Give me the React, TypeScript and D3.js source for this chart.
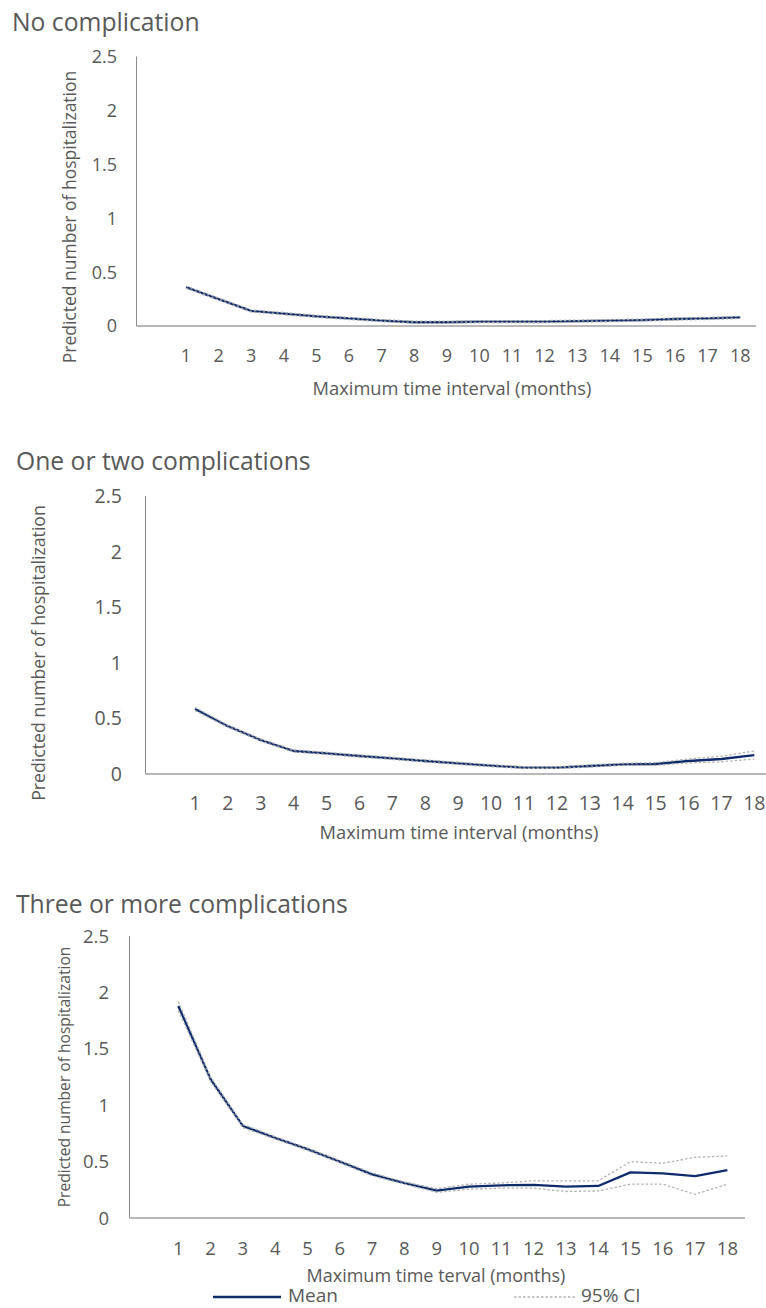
import React from "react";
import * as d3 from "d3";

const months = [1, 2, 3, 4, 5, 6, 7, 8, 9, 10, 11, 12, 13, 14, 15, 16, 17, 18];
const yTicks = [0, 0.5, 1, 1.5, 2, 2.5];

const noCompMean = [0.36, 0.25, 0.14, 0.115, 0.09, 0.07, 0.05, 0.035, 0.035, 0.04, 0.04, 0.04, 0.045, 0.05, 0.055, 0.065, 0.07, 0.08];
const noCompLower = [0.35, 0.24, 0.13, 0.105, 0.08, 0.06, 0.04, 0.025, 0.025, 0.03, 0.03, 0.03, 0.035, 0.04, 0.045, 0.055, 0.06, 0.07];
const noCompUpper = [0.37, 0.26, 0.15, 0.125, 0.1, 0.08, 0.06, 0.045, 0.045, 0.05, 0.05, 0.05, 0.055, 0.06, 0.065, 0.075, 0.08, 0.09];

const oneTwoMean = [0.585, 0.43, 0.305, 0.207, 0.186, 0.162, 0.141, 0.117, 0.096, 0.075, 0.057, 0.057, 0.072, 0.087, 0.09, 0.117, 0.135, 0.17];
const oneTwoLower = [0.57, 0.42, 0.295, 0.197, 0.176, 0.152, 0.131, 0.107, 0.086, 0.065, 0.05, 0.05, 0.062, 0.077, 0.078, 0.1, 0.11, 0.135];
const oneTwoUpper = [0.6, 0.44, 0.315, 0.217, 0.196, 0.172, 0.151, 0.127, 0.106, 0.085, 0.066, 0.066, 0.082, 0.097, 0.102, 0.135, 0.16, 0.207];

const threeMean = [1.88, 1.23, 0.816, 0.71, 0.61, 0.5, 0.387, 0.31, 0.242, 0.278, 0.29, 0.293, 0.278, 0.284, 0.405, 0.396, 0.372, 0.425];
const threeLower = [1.84, 1.21, 0.8, 0.7, 0.6, 0.49, 0.375, 0.3, 0.228, 0.255, 0.265, 0.265, 0.235, 0.24, 0.3, 0.3, 0.21, 0.3];
const threeUpper = [1.92, 1.25, 0.83, 0.72, 0.62, 0.51, 0.4, 0.32, 0.26, 0.3, 0.31, 0.33, 0.33, 0.33, 0.5, 0.485, 0.538, 0.55];

const panelTitles = ["No complication", "One or two complications", "Three or more complications"];
const yTitle = "Predicted number of hospitalization";
const xTitles = ["Maximum time interval (months)", "Maximum time interval (months)", "Maximum time terval (months)"];
const legendLabels = ["Mean", "95% CI"];

const FONT = "'Open Sans', 'Noto Sans', sans-serif";
const TEXT = "#595959";
const NAVY = "#0f2b6b";
const CI = "#b3b3b3";

type Layout = {
  titleX: number; titleY: number;
  left: number; top: number; bottom: number; axisRight: number;
  firstX: number; step: number;
  tickFont: number; yLabelRight: number;
  yTitleX: number; yTitleY: number; yTitleFont: number;
  xLabelY: number; xTitleX: number; xTitleY: number; xTitleFont: number;
};

const layouts: Layout[] = [
  { titleX: 12, titleY: 31, left: 136.5, top: 56.5, bottom: 326, axisRight: 756, firstX: 186, step: 32.6,
    tickFont: 18, yLabelRight: 117, yTitleX: 71, yTitleY: 217, yTitleFont: 17.5,
    xLabelY: 361.5, xTitleX: 452, xTitleY: 395, xTitleFont: 18.3 },
  { titleX: 16, titleY: 470, left: 145.5, top: 496, bottom: 774, axisRight: 766, firstX: 195, step: 32.9,
    tickFont: 19.5, yLabelRight: 122, yTitleX: 40, yTitleY: 653, yTitleFont: 17.7,
    xLabelY: 809.5, xTitleX: 459, xTitleY: 839, xTitleFont: 18.3 },
  { titleX: 16, titleY: 912.5, left: 129.5, top: 936, bottom: 1218, axisRight: 745, firstX: 178.3, step: 32.3,
    tickFont: 18.5, yLabelRight: 109, yTitleX: 65, yTitleY: 1077, yTitleFont: 15.6,
    xLabelY: 1254.5, xTitleX: 436, xTitleY: 1282, xTitleFont: 18 },
];

const seriesSets = [
  { mean: noCompMean, lower: noCompLower, upper: noCompUpper },
  { mean: oneTwoMean, lower: oneTwoLower, upper: oneTwoUpper },
  { mean: threeMean, lower: threeLower, upper: threeUpper },
];

function Panel({ idx }: { idx: number }) {
  const L = layouts[idx];
  const s = seriesSets[idx];
  const x = d3.scaleLinear().domain([1, 18]).range([L.firstX, L.firstX + 17 * L.step]);
  const y = d3.scaleLinear().domain([0, 2.5]).range([L.bottom, L.top]);
  const line = d3.line<number>().x((_, i) => x(months[i])).y((v) => y(v));
  return (
    <g>
      <text x={L.titleX} y={L.titleY} fontSize={24.7} fill={TEXT} fontFamily={FONT}>{panelTitles[idx]}</text>
      <line x1={L.left} x2={L.left} y1={L.top} y2={L.bottom} stroke="#8c8c8c" strokeWidth={1} />
      <line x1={L.left} x2={L.axisRight} y1={L.bottom} y2={L.bottom} stroke="#a0a0a0" strokeWidth={1.6} />
      {yTicks.map((t) => (
        <text key={t} x={L.yLabelRight} y={y(t) + L.tickFont * 0.36} textAnchor="end" fontSize={L.tickFont} fill={TEXT} fontFamily={FONT}>{t}</text>
      ))}
      {months.map((m) => (
        <text key={m} x={x(m)} y={L.xLabelY} textAnchor="middle" fontSize={L.tickFont} fill={TEXT} fontFamily={FONT}>{m}</text>
      ))}
      <text transform={`translate(${L.yTitleX + L.yTitleFont * 0.3},${L.yTitleY}) rotate(-90)`} textAnchor="middle" fontSize={L.yTitleFont} fill={TEXT} fontFamily={FONT}>{yTitle}</text>
      <text x={L.xTitleX} y={L.xTitleY} textAnchor="middle" fontSize={L.xTitleFont} fill={TEXT} fontFamily={FONT}>{xTitles[idx]}</text>
      <path d={line(s.mean) || ""} fill="none" stroke={NAVY} strokeWidth={2.3} strokeLinejoin="round" />
      <path d={line(s.lower) || ""} fill="none" stroke={CI} strokeWidth={1.3} strokeDasharray="2.5,2" />
      <path d={line(s.upper) || ""} fill="none" stroke={CI} strokeWidth={1.3} strokeDasharray="2.5,2" />
    </g>
  );
}

export default function App() {
  return (
    <svg width={766} height={1308} style={{ position: "absolute", left: 0, top: 0, background: "#fff" }}>
      <rect x={0} y={0} width={766} height={1308} fill="#fff" />
      <Panel idx={0} />
      <Panel idx={1} />
      <Panel idx={2} />
      <g>
        <line x1={213} x2={281} y1={1297} y2={1297} stroke={NAVY} strokeWidth={2.3} />
        <text x={288} y={1302} fontSize={19} fill={TEXT} fontFamily={FONT}>{legendLabels[0]}</text>
        <line x1={514} x2={577} y1={1297} y2={1297} stroke={CI} strokeWidth={1.3} strokeDasharray="2.5,2" />
        <text x={581} y={1302} fontSize={19} fill={TEXT} fontFamily={FONT}>{legendLabels[1]}</text>
      </g>
    </svg>
  );
}
